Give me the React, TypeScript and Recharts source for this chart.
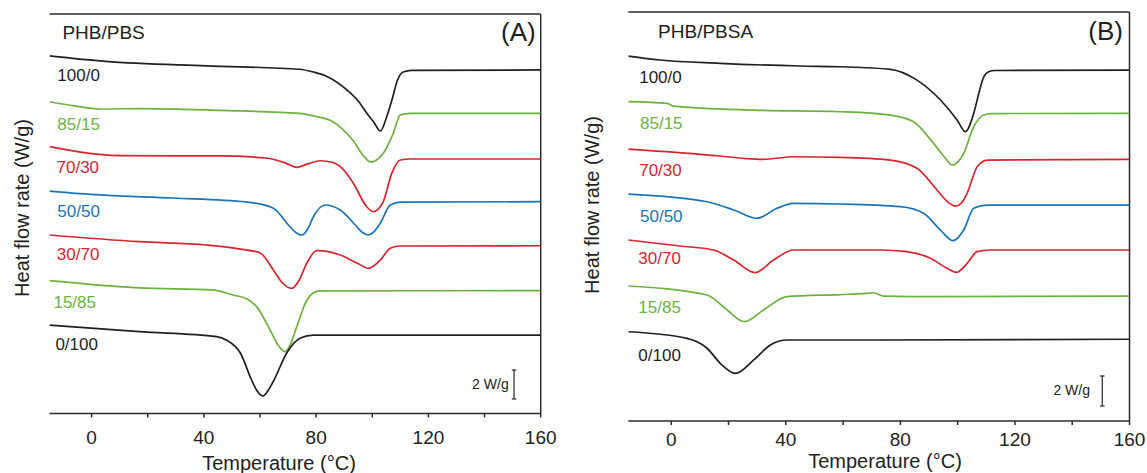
import React from 'react';
import { LineChart, Line, XAxis, YAxis, ReferenceDot, ReferenceLine } from 'recharts';

type Pt = [number, number];

const FONT = '"Liberation Sans", Arial, Helvetica, sans-serif';
const AXIS_COLOR = '#2b2b2b';

const BLENDS = ['100/0', '85/15', '70/30', '50/50', '30/70', '15/85', '0/100'];
const COLORS = ['#231f20', '#6db33f', '#d7262e', '#1b75bb', '#d7262e', '#6db33f', '#231f20'];
const X_TICKS = [0, 20, 40, 60, 80, 100, 120, 140, 160];

// (A) PHB/PBS — temperature (°C) vs stacked heat flow (W/g)
const pbs100_0: Pt[] = [[-15, 24.66], [5, 24.28], [41, 23.97], [74, 23.74], [79, 23.55], [84, 23.23], [91, 22.31], [95, 21.55], [98, 20.72], [100.5, 20.1], [102.9, 19.48], [105, 20.38], [107, 21.62], [109, 23.0], [111, 23.55], [114, 23.66], [160, 23.69]];
const pbs85_15: Pt[] = [[-15, 21.5], [-6, 21.21], [3, 21.0], [17, 21.03], [46, 20.9], [74, 20.7], [80, 20.48], [86, 20.12], [93, 18.86], [97.5, 17.62], [99.5, 17.34], [101.5, 17.48], [104, 17.97], [107.5, 19.34], [110, 20.59], [113.5, 20.7], [160, 20.7]];
const pbs70_30: Pt[] = [[-15, 18.4], [-4, 18.03], [10, 17.79], [29, 17.76], [46, 17.76], [62, 17.62], [69, 17.28], [73, 16.98], [77, 17.21], [81.4, 17.43], [86, 17.31], [88.6, 17.02], [93.2, 15.9], [98, 14.26], [100.4, 13.92], [103.9, 14.61], [107, 16.59], [110, 17.48], [113.6, 17.55], [160, 17.55]];
const pbs50_50: Pt[] = [[-15, 15.34], [3, 15.07], [29, 14.86], [55, 14.59], [64.6, 14.17], [70.7, 12.88], [73, 12.45], [75, 12.31], [77, 12.72], [79, 13.57], [83.2, 14.38], [88.6, 14.03], [94.5, 12.88], [96.5, 12.48], [98.7, 12.31], [100.5, 12.52], [102.9, 13.14], [106.4, 14.38], [110, 14.57], [160, 14.61]];
const pbs30_70: Pt[] = [[-15, 12.31], [17, 11.85], [41, 11.62], [53, 11.34], [60, 11.07], [65, 9.83], [68, 9.0], [71.3, 8.63], [74, 9.21], [76.7, 10.38], [80.2, 11.23], [88.6, 10.93], [94.5, 10.38], [98.7, 10.01], [102.9, 10.59], [106.4, 11.39], [110, 11.55], [160, 11.57]];
const pbs15_85: Pt[] = [[-15, 9.16], [17, 8.66], [43, 8.52], [50.4, 8.17], [55.4, 7.9], [58.8, 7.37], [63.6, 5.76], [66.4, 4.72], [68.9, 4.26], [70.7, 4.72], [73.1, 5.99], [76.7, 7.83], [78.9, 8.31], [81.4, 8.45], [160, 8.47]];
const pbs0_100: Pt[] = [[-15, 6.1], [17, 5.64], [44.5, 5.3], [48, 5.07], [53, 4.17], [57, 2.31], [59, 1.55], [61.1, 1.21], [63, 1.62], [65, 2.31], [69.5, 4.17], [74.4, 5.21], [79, 5.41], [160, 5.41]];

// (B) PHB/PBSA
const pbsa100_0: Pt[] = [[-15, 24.33], [-4, 24.07], [17, 23.85], [45, 23.67], [59, 23.62], [76.5, 23.45], [85.8, 22.73], [94, 21.4], [99.8, 20.07], [102.7, 19.29], [105.6, 20.51], [107.4, 21.85], [109.1, 22.95], [111, 23.3], [113, 23.37], [160, 23.4]];
const pbsa85_15: Pt[] = [[-15, 21.29], [-1.5, 21.18], [0.8, 21.0], [29, 20.73], [59, 20.62], [76.5, 20.4], [84.6, 19.95], [91.6, 18.51], [95.4, 17.6], [98.1, 17.07], [100.3, 17.33], [102.1, 17.85], [105.6, 19.62], [109.1, 20.4], [112, 20.5], [160, 20.51]];
const pbsa70_30: Pt[] = [[-15, 18.13], [17, 17.67], [26, 17.5], [32, 17.45], [43, 17.62], [59, 17.58], [76.5, 17.4], [85.8, 16.85], [92.8, 15.4], [97, 14.53], [99.2, 14.33], [101.3, 14.53], [103.3, 15.18], [106.8, 16.95], [110.3, 17.4], [160, 17.45]];
const pbsa50_50: Pt[] = [[-15, 15.13], [12.5, 14.62], [21.8, 14.07], [29.9, 13.51], [36.9, 14.18], [42.7, 14.51], [59, 14.47], [80, 14.29], [88.1, 13.85], [94, 12.73], [98.4, 12.02], [102.1, 12.73], [105.6, 14.18], [110.3, 14.4], [160, 14.4]];
const pbsa30_70: Pt[] = [[-15, 12.07], [3, 11.67], [14.8, 11.4], [21.8, 10.73], [29.3, 9.89], [35.7, 10.73], [42.7, 11.4], [73, 11.4], [82.3, 11.29], [90.5, 10.85], [96.3, 10.18], [99.6, 9.91], [103.3, 10.51], [106.8, 11.29], [111.4, 11.4], [160, 11.4]];
const pbsa15_85: Pt[] = [[-15, 9.0], [12.5, 8.4], [19.5, 7.4], [25.5, 6.62], [32.2, 7.4], [40.4, 8.29], [59, 8.43], [68.1, 8.51], [70.7, 8.55], [74.2, 8.33], [94, 8.29], [160, 8.33]];
const pbsa0_100: Pt[] = [[-15, 5.95], [5.5, 5.51], [12.5, 4.85], [17.1, 3.85], [22.4, 3.18], [28.8, 4.07], [34.6, 5.07], [40.4, 5.4], [73, 5.4], [160, 5.45]];

// where the blend labels sit (T, heat flow)
const PBS_LABEL_T = [-12.2, -12.2, -12.5, -12.2, -12.4, -13.6, -12.9];
const PBS_LABEL_V = [23.34, 19.97, 17.02, 13.98, 10.97, 7.71, 4.79];
const PBSA_LABEL_T = [-11.2, -10.9, -11.2, -10.9, -11.5, -11.5, -11.5];
const PBSA_LABEL_V = [22.95, 19.85, 16.73, 13.69, 10.85, 7.58, 4.4];

interface PanelProps {
  left: number;
  width: number;
  margin: { top: number; right: number; bottom: number; left: number };
  yMax: number;
  tickMargin: number;
  curves: Pt[][];
  labelT: number[];
  labelV: number[];
  title: string;
  titleAt: Pt;
  letter: string;
  letterAt: Pt;
  barT: number;
  barText: Pt;
}

const Panel: React.FC<PanelProps> = (p) => {
  const axisProps = { stroke: AXIS_COLOR, strokeWidth: 1.5 };
  return (
    <div style={{ position: 'absolute', left: p.left, top: 0 }}>
      <LineChart width={p.width} height={473} margin={p.margin} style={{ fontFamily: FONT }}>
        <XAxis
          dataKey="t"
          type="number"
          domain={[-15, 160]}
          allowDataOverflow
          ticks={X_TICKS}
          interval={0}
          height={30}
          tickSize={4}
          tickMargin={p.tickMargin}
          axisLine={axisProps}
          tickLine={axisProps}
          tick={{ fill: '#222', fontSize: 19 }}
          tickFormatter={(v: number) => (v % 40 === 0 ? String(v) : '')}
        />
        <YAxis type="number" domain={[0, p.yMax]} allowDataOverflow width={0} tick={false} tickLine={false} axisLine={axisProps} />
        {/* frame: top and right edges */}
        <ReferenceLine y={p.yMax} stroke={AXIS_COLOR} strokeWidth={1.5} ifOverflow="visible" />
        <ReferenceLine x={160} stroke={AXIS_COLOR} strokeWidth={1.5} ifOverflow="visible" />
        {p.curves.map((c, i) => (
          <Line
            key={BLENDS[i]}
            data={c.map(([t, v]) => ({ t, v }))}
            dataKey="v"
            type="monotone"
            stroke={COLORS[i]}
            strokeWidth={1.7}
            dot={false}
            activeDot={false}
            isAnimationActive={false}
          />
        ))}
        {BLENDS.map((b, i) => (
          <ReferenceDot
            key={'lbl' + b}
            x={p.labelT[i]}
            y={p.labelV[i]}
            r={0}
            ifOverflow="visible"
            stroke="none"
            label={{ value: b, position: 'right', offset: 0, fill: COLORS[i], fontSize: 17 }}
          />
        ))}
        <ReferenceDot
          x={p.titleAt[0]}
          y={p.titleAt[1]}
          r={0}
          stroke="none"
          label={{ value: p.title, position: 'right', offset: 0, fill: '#222', fontSize: 19 }}
        />
        <ReferenceDot
          x={p.letterAt[0]}
          y={p.letterAt[1]}
          r={0}
          stroke="none"
          label={{ value: p.letter, position: 'left', offset: 0, fill: '#222', fontSize: 26 }}
        />
        <ReferenceLine segment={[{ x: p.barT, y: 1 }, { x: p.barT, y: 3 }]} stroke="#333" strokeWidth={1.3} />
        <ReferenceLine segment={[{ x: p.barT - 0.8, y: 1 }, { x: p.barT + 0.8, y: 1 }]} stroke="#333" strokeWidth={1.3} />
        <ReferenceLine segment={[{ x: p.barT - 0.8, y: 3 }, { x: p.barT + 0.8, y: 3 }]} stroke="#333" strokeWidth={1.3} />
        <ReferenceDot
          x={p.barText[0]}
          y={p.barText[1]}
          r={0}
          stroke="none"
          label={{ value: '2 W/g', position: 'left', offset: 0, fill: '#222', fontSize: 14 }}
        />
      </LineChart>
    </div>
  );
};

export default function App() {
  return (
    <div style={{ position: 'absolute', left: 0, top: 0, width: 1147, height: 473, background: '#fff', overflow: 'hidden' }}>
      <Panel
        left={0}
        width={560}
        margin={{ top: 14, right: 19.3, bottom: 29.5, left: 49.5 }}
        yMax={27.55}
        tickMargin={13}
        curves={[pbs100_0, pbs85_15, pbs70_30, pbs50_50, pbs30_70, pbs15_85, pbs0_100]}
        labelT={PBS_LABEL_T}
        labelV={PBS_LABEL_V}
        title="PHB/PBS"
        titleAt={[-10.4, 26.3]}
        letter="(A)"
        letterAt={[158.2, 26.35]}
        barT={150.5}
        barText={[148.6, 2.03]}
      />
      <Panel
        left={570}
        width={577}
        margin={{ top: 12, right: 17.5, bottom: 22, left: 58.3 }}
        yMax={27.27}
        tickMargin={8}
        curves={[pbsa100_0, pbsa85_15, pbsa70_30, pbsa50_50, pbsa30_70, pbsa15_85, pbsa0_100]}
        labelT={PBSA_LABEL_T}
        labelV={PBSA_LABEL_V}
        title="PHB/PBSA"
        titleAt={[-4.6, 26.0]}
        letter="(B)"
        letterAt={[157.7, 26.0]}
        barT={150.5}
        barText={[146.2, 2.07]}
      />
      <svg width={1147} height={473} style={{ position: 'absolute', left: 0, top: 0, pointerEvents: 'none', fontFamily: FONT }}>
        <text x={279} y={470} textAnchor="middle" fontSize={20} fill="#222">Temperature (°C)</text>
        <text x={885} y={468} textAnchor="middle" fontSize={20} fill="#222">Temperature (°C)</text>
        <text transform="translate(29,208) rotate(-90)" textAnchor="middle" fontSize={20} fill="#222">Heat flow rate (W/g)</text>
        <text transform="translate(599,205) rotate(-90)" textAnchor="middle" fontSize={20} fill="#222">Heat flow rate (W/g)</text>
      </svg>
    </div>
  );
}
